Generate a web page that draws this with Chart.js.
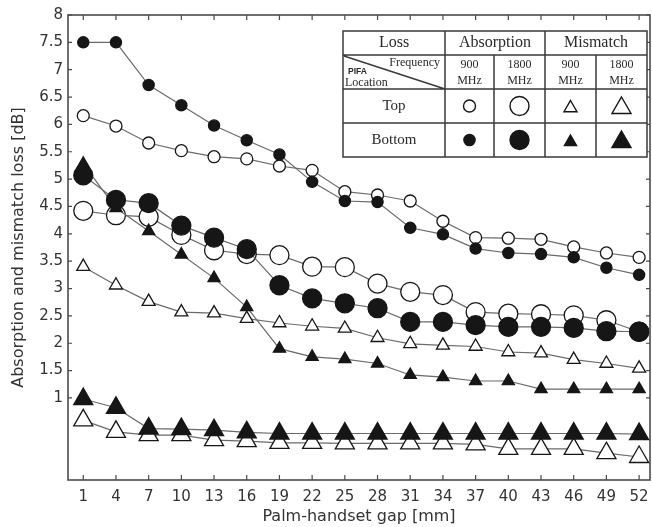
<!DOCTYPE html>
<html>
<head>
<meta charset="utf-8">
<script src="https://cdn.jsdelivr.net/npm/chart.js@4.4.1/dist/chart.umd.min.js"></script>
<style>
  html, body { margin: 0; padding: 0; background: #fff; }
  #wrap { width: 652px; height: 527px; }
</style>
</head>
<body>
<div id="wrap"><canvas id="chart" width="652" height="527"></canvas></div>
<script>
// Palm-handset gap [mm]
const gaps = [1, 4, 7, 10, 13, 16, 19, 22, 25, 28, 31, 34, 37, 40, 43, 46, 49, 52];
const yTickValues = [1, 1.5, 2, 2.5, 3, 3.5, 4, 4.5, 5, 5.5, 6, 6.5, 7, 7.5, 8];

// Absorption loss [dB]
const absTop900     = [6.16, 5.97, 5.66, 5.52, 5.41, 5.37, 5.24, 5.16, 4.77, 4.71, 4.60, 4.23, 3.93, 3.92, 3.90, 3.76, 3.65, 3.57];
const absBottom900  = [7.50, 7.50, 6.72, 6.35, 5.98, 5.71, 5.45, 4.95, 4.60, 4.58, 4.11, 3.99, 3.73, 3.65, 3.63, 3.57, 3.38, 3.25];
const absTop1800    = [4.42, 4.34, 4.31, 3.98, 3.70, 3.63, 3.61, 3.40, 3.39, 3.09, 2.94, 2.88, 2.57, 2.54, 2.53, 2.51, 2.42, 2.21];
const absBottom1800 = [5.07, 4.62, 4.56, 4.15, 3.93, 3.72, 3.06, 2.82, 2.73, 2.64, 2.39, 2.39, 2.33, 2.30, 2.30, 2.28, 2.22, 2.21];

// Mismatch loss [dB]
const misTop900     = [3.40, 3.06, 2.76, 2.57, 2.55, 2.45, 2.37, 2.31, 2.27, 2.10, 1.99, 1.96, 1.94, 1.84, 1.82, 1.70, 1.63, 1.54];
const misBottom900  = [5.28, 4.47, 4.05, 3.62, 3.19, 2.66, 1.90, 1.75, 1.71, 1.63, 1.42, 1.38, 1.31, 1.31, 1.16, 1.16, 1.16, 1.16];
const misTop1800    = [0.59, 0.38, 0.32, 0.32, 0.23, 0.21, 0.18, 0.18, 0.17, 0.17, 0.17, 0.17, 0.15, 0.07, 0.07, 0.07, -0.01, -0.08];
const misBottom1800 = [0.98, 0.82, 0.44, 0.43, 0.41, 0.37, 0.35, 0.35, 0.35, 0.35, 0.35, 0.35, 0.35, 0.35, 0.35, 0.35, 0.35, 0.34];

// Legend table texts
const lossTypes = ['Absorption', 'Mismatch'];
const tableFreqs = ['900', '1800', '900', '1800'];
const locations = ['Top', 'Bottom'];

const INK = '#161616';
const LINE = '#6a6a6a';

// Marker looks (small = 900 MHz, large = 1800 MHz)
const marks = {
  absTop900:     { pointStyle: 'circle',   radius: 6,   filled: false },
  absBottom900:  { pointStyle: 'circle',   radius: 5.6, filled: true },
  absTop1800:    { pointStyle: 'circle',   radius: 9.5, filled: false },
  absBottom1800: { pointStyle: 'circle',   radius: 9.5, filled: true },
  misTop900:     { pointStyle: 'triangle', radius: 7.5, filled: false },
  misBottom900:  { pointStyle: 'triangle', radius: 7,   filled: true },
  misTop1800:    { pointStyle: 'triangle', radius: 11,  filled: false },
  misBottom1800: { pointStyle: 'triangle', radius: 11,  filled: true }
};

const makeSet = (label, values, key) => {
  const m = marks[key];
  return {
    label: label,
    data: values.map((v, i) => ({ x: gaps[i], y: v })),
    borderColor: LINE,
    borderWidth: 1.2,
    pointStyle: m.pointStyle,
    pointRadius: m.radius,
    pointHoverRadius: m.radius,
    pointBackgroundColor: m.filled ? INK : '#ffffff',
    pointBorderColor: INK,
    pointBorderWidth: 1.3,
    fill: false,
    tension: 0
  };
};

// first in the list is drawn last (on top), so filled marks go first
const datasets = [
  makeSet('Bottom 900 MHz absorption', absBottom900, 'absBottom900'),
  makeSet('Bottom 1800 MHz absorption', absBottom1800, 'absBottom1800'),
  makeSet('Bottom 900 MHz mismatch', misBottom900, 'misBottom900'),
  makeSet('Bottom 1800 MHz mismatch', misBottom1800, 'misBottom1800'),
  makeSet('Top 900 MHz absorption', absTop900, 'absTop900'),
  makeSet('Top 1800 MHz absorption', absTop1800, 'absTop1800'),
  makeSet('Top 900 MHz mismatch', misTop900, 'misTop900'),
  makeSet('Top 1800 MHz mismatch', misTop1800, 'misTop1800')
];

// Box round the plot with small inward ticks on all four sides
const framePlugin = {
  id: 'frame',
  beforeDatasetsDraw(chart) {
    const { ctx, chartArea: a } = chart;
    const xs = chart.scales.x, ys = chart.scales.y;
    ctx.save();
    ctx.strokeStyle = '#4a4a4a';
    ctx.lineWidth = 1.6;
    ctx.strokeRect(a.left, a.top, a.right - a.left, a.bottom - a.top);
    ctx.lineWidth = 1.2;
    ctx.beginPath();
    gaps.forEach(g => {
      const px = xs.getPixelForValue(g);
      ctx.moveTo(px, a.bottom); ctx.lineTo(px, a.bottom - 5);
      ctx.moveTo(px, a.top); ctx.lineTo(px, a.top + 5);
    });
    yTickValues.forEach(v => {
      const py = ys.getPixelForValue(v);
      ctx.moveTo(a.left, py); ctx.lineTo(a.left + 4, py);
      ctx.moveTo(a.right, py); ctx.lineTo(a.right - 4, py);
    });
    ctx.stroke();
    ctx.restore();
  }
};

// Legend drawn as the boxed table in the upper right
const tablePlugin = {
  id: 'legendTable',
  afterDraw(chart) {
    const ctx = chart.ctx;
    const cx = [343, 445, 494, 545, 596, 647];
    const cy = [31, 55, 89, 123, 157];
    const mid = (a, b) => (a + b) / 2;
    ctx.save();
    ctx.fillStyle = '#fff';
    ctx.fillRect(cx[0], cy[0], cx[5] - cx[0], cy[4] - cy[0]);
    ctx.strokeStyle = '#3a3a3a';
    ctx.lineWidth = 1.5;
    ctx.strokeRect(cx[0], cy[0], cx[5] - cx[0], cy[4] - cy[0]);
    ctx.beginPath();
    [cy[1], cy[2], cy[3]].forEach(y => { ctx.moveTo(cx[0], y); ctx.lineTo(cx[5], y); });
    [cx[1], cx[3]].forEach(x => { ctx.moveTo(x, cy[0]); ctx.lineTo(x, cy[4]); });
    [cx[2], cx[4]].forEach(x => { ctx.moveTo(x, cy[1]); ctx.lineTo(x, cy[4]); });
    ctx.moveTo(cx[0] + 1, cy[1] + 1); ctx.lineTo(cx[1], cy[2]);
    ctx.stroke();

    ctx.fillStyle = '#2a2a2a';
    ctx.textAlign = 'center';
    ctx.textBaseline = 'middle';
    ctx.font = '16px "Liberation Serif"';
    ctx.fillText('Loss', mid(cx[0], cx[1]), 43);
    ctx.fillText(lossTypes[0], mid(cx[1], cx[3]), 43);
    ctx.fillText(lossTypes[1], mid(cx[3], cx[5]), 43);

    ctx.font = '12px "Liberation Serif"';
    tableFreqs.forEach((f, i) => {
      const x = mid(cx[i + 1], cx[i + 2]);
      ctx.fillText(f, x, 65);
      ctx.fillText('MHz', x, 81);
    });

    ctx.textAlign = 'right';
    ctx.font = '12px "Liberation Serif"';
    ctx.fillText('Frequency', cx[1] - 5, 63);
    ctx.textAlign = 'left';
    ctx.font = 'bold 8.5px "Liberation Sans"';
    ctx.fillText('PIFA', cx[0] + 5, 72);
    ctx.font = '12px "Liberation Serif"';
    ctx.fillText('Location', cx[0] + 2, 83);

    ctx.textAlign = 'center';
    ctx.font = '15px "Liberation Serif"';
    locations.forEach((loc, r) => ctx.fillText(loc, mid(cx[0], cx[1]), mid(cy[r + 2], cy[r + 3])));

    const keys = [
      ['absTop900', 'absTop1800', 'misTop900', 'misTop1800'],
      ['absBottom900', 'absBottom1800', 'misBottom900', 'misBottom1800']
    ];
    keys.forEach((row, r) => row.forEach((k, c) => {
      const m = marks[k];
      ctx.fillStyle = m.filled ? INK : '#fff';
      ctx.strokeStyle = INK;
      ctx.lineWidth = 1.4;
      Chart.helpers.drawPoint(ctx, { pointStyle: m.pointStyle, radius: m.radius, rotation: 0, borderWidth: 1.4 },
        mid(cx[c + 1], cx[c + 2]), mid(cy[r + 2], cy[r + 3]) + (m.pointStyle === 'triangle' ? 2 : 0));
    }));
    ctx.restore();
  }
};

const axisFont = { family: '"DejaVu Sans"', size: 15 };

new Chart(document.getElementById('chart').getContext('2d'), {
  type: 'line',
  data: { datasets: datasets },
  options: {
    responsive: false,
    animation: false,
    events: [],
    layout: { autoPadding: false, padding: { top: 15, right: 2, left: 0, bottom: 0 } },
    plugins: { legend: { display: false }, tooltip: { enabled: false } },
    scales: {
      x: {
        type: 'linear',
        min: -0.4,
        max: 53,
        afterBuildTicks: scale => { scale.ticks = gaps.map(v => ({ value: v })); },
        afterFit: scale => {
          scale.height = 47;
          scale.paddingLeft = 0;
          scale.paddingRight = 0;
        },
        grid: { display: false, drawTicks: false },
        border: { display: false },
        ticks: { color: '#333', font: axisFont, padding: 8, maxRotation: 0, autoSkip: false, callback: v => String(v) },
        title: {
          display: true,
          text: 'Palm-handset gap [mm]',
          color: '#333',
          font: { family: '"DejaVu Sans"', size: 16 },
          padding: { top: 0, bottom: 1 }
        }
      },
      y: {
        type: 'linear',
        min: -0.5,
        max: 8,
        afterBuildTicks: scale => { scale.ticks = yTickValues.map(v => ({ value: v })); },
        afterFit: scale => {
          scale.width = 68;
          scale.paddingTop = 0;
          scale.paddingBottom = 0;
        },
        grid: { display: false, drawTicks: false },
        border: { display: false },
        ticks: { color: '#333', font: axisFont, padding: 5, autoSkip: false, callback: v => String(v) },
        title: {
          display: true,
          text: 'Absorption and mismatch loss [dB]',
          color: '#333',
          font: { family: '"DejaVu Sans"', size: 16 },
          padding: { top: 9, bottom: 0 }
        }
      }
    }
  },
  plugins: [framePlugin, tablePlugin]
});
</script>
</body>
</html>
